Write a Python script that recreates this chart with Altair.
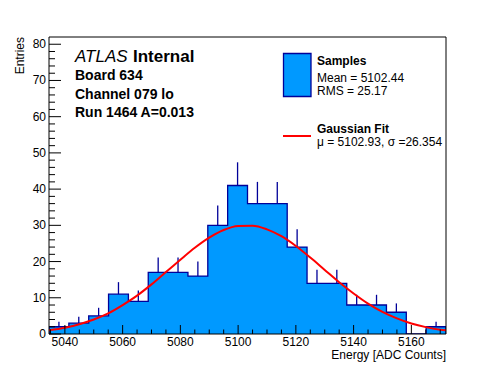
import altair as alt
import pandas as pd
import numpy as np

# ---- data ----
x_min = 5034.5
x_max = 5172.0
y_max = 82
counts = [2, 3, 5, 11, 9, 17, 17, 16, 30, 41, 36, 36, 24, 14, 14, 8, 8, 6, 0, 2]

fit_x = [5034.5, 5040, 5045, 5050, 5055, 5060, 5065, 5070, 5075, 5080, 5085, 5090,
         5095, 5100, 5105, 5110, 5115, 5120, 5125, 5130, 5135, 5140, 5145, 5150,
         5155, 5160, 5165, 5170, 5172]
fit_y = [1.0, 1.7, 2.7, 4.0, 5.7, 8.0, 10.6, 13.7, 17.1, 20.5, 23.8, 26.6,
         28.7, 29.8, 29.9, 28.9, 27.0, 24.3, 21.1, 17.7, 14.3, 11.2, 8.4, 6.1,
         4.3, 2.9, 1.9, 1.2, 1.0]

x_major = [5040, 5060, 5080, 5100, 5120, 5140, 5160]
x_minor = [5035, 5045, 5050, 5055, 5065, 5070, 5075, 5085, 5090, 5095, 5105,
           5110, 5115, 5125, 5130, 5135, 5145, 5150, 5155, 5165, 5170]
y_major = [0, 10, 20, 30, 40, 50, 60, 70, 80]
y_minor = [2, 4, 6, 8, 12, 14, 16, 18, 22, 24, 26, 28, 32, 34, 36, 38, 42, 44, 46, 48,
           52, 54, 56, 58, 62, 64, 66, 68, 72, 74, 76, 78]

W, H = 397, 297
FONT = "Liberation Sans"
FILL = "#0099ff"
EDGE = "#000099"

n = len(counts)
edges = np.linspace(x_min, x_max, n + 1)
bins = pd.DataFrame({
    "center": (edges[:-1] + edges[1:]) / 2, "count": counts,
})
bins["hi"] = bins["count"] + np.sqrt(bins["count"])

step = pd.DataFrame({
    "x": [edges[0]] + list(edges[:-1]) + [edges[-1], edges[-1]],
    "y": [0] + counts + [counts[-1], 0],
})
fit = pd.DataFrame({"x": fit_x, "y": fit_y})

xs = alt.Scale(domain=[x_min, x_max], nice=False, zero=False)
ys = alt.Scale(domain=[0, y_max], nice=False)

fill = alt.Chart(step).mark_area(interpolate="step-after", color=FILL,
                                 opacity=1, clip=True).encode(
    x=alt.X("x:Q", scale=xs, axis=None), y=alt.Y("y:Q", scale=ys, axis=None))

outline = alt.Chart(step).mark_line(interpolate="step-after", color=EDGE,
                                    strokeWidth=1.3, clip=True).encode(
    x=alt.X("x:Q", scale=xs, axis=None), y=alt.Y("y:Q", scale=ys, axis=None))

errs = alt.Chart(bins[bins["count"] > 0]).mark_rule(color=EDGE, strokeWidth=1.3).encode(
    x=alt.X("center:Q", scale=xs, axis=None), y=alt.Y("count:Q", scale=ys, axis=None),
    y2="hi:Q")

curve = alt.Chart(fit).mark_line(color="#ff0000", strokeWidth=2,
                                 interpolate="monotone", clip=True).encode(
    x=alt.X("x:Q", scale=xs, axis=None), y=alt.Y("y:Q", scale=ys, axis=None))

def xticks(vals, length):
    return alt.Chart(pd.DataFrame({"v": vals})).mark_rule(color="black", strokeWidth=1).encode(
        x=alt.X("v:Q", scale=xs, axis=None), y=alt.value(H), y2=alt.value(H - length))

def yticks(vals, length):
    return alt.Chart(pd.DataFrame({"v": vals})).mark_rule(color="black", strokeWidth=1).encode(
        y=alt.Y("v:Q", scale=ys, axis=None), x=alt.value(0), x2=alt.value(length))

xlabels = alt.Chart(pd.DataFrame({"v": x_major})).mark_text(
    font=FONT, fontSize=12, align="center", baseline="middle", color="black").encode(
    x=alt.X("v:Q", scale=xs, axis=None), y=alt.value(H + 8), text=alt.Text("v:Q", format="d"))

ylabels = alt.Chart(pd.DataFrame({"v": y_major})).mark_text(
    font=FONT, fontSize=12, align="right", baseline="middle", color="black").encode(
    y=alt.Y("v:Q", scale=ys, axis=None), x=alt.value(-3), text=alt.Text("v:Q", format="d"))

frame = alt.Chart(pd.DataFrame({"a": [0]})).mark_rect(
    fill=None, stroke="black", strokeWidth=1).encode(
    x=alt.value(0), x2=alt.value(W), y=alt.value(0), y2=alt.value(H))

def label(text, x, y, size=12, weight="normal", style="normal", align="left", angle=0):
    return alt.Chart(pd.DataFrame({"t": [text]})).mark_text(
        font=FONT, fontSize=size, fontWeight=weight, fontStyle=style, align=align,
        baseline="middle", color="black", angle=angle).encode(
        text="t:N", x=alt.value(x), y=alt.value(y))

ox, oy = 49, 37  # plot origin on the page
texts = [
    label("Energy [ADC Counts]", W, 355 - oy, size=12, align="right"),
    label("Entries", 20 - ox, 0, size=12, align="right", angle=270),
    label("ATLAS", 75 - ox, 57 - oy, size=17, style="italic"),
    label("Internal", 133 - ox, 57 - oy, size=17, weight="bold"),
    label("Board 634", 75 - ox, 76 - oy, size=14, weight="bold"),
    label("Channel 079 lo", 75 - ox, 95 - oy, size=14, weight="bold"),
    label("Run 1464 A=0.013", 75 - ox, 113 - oy, size=14, weight="bold"),
    label("Samples", 317 - ox, 61 - oy, size=12, weight="bold"),
    label("Mean = 5102.44", 317 - ox, 78 - oy, size=12),
    label("RMS = 25.17", 317 - ox, 91 - oy, size=12),
    label("Gaussian Fit", 317 - ox, 129 - oy, size=12, weight="bold"),
    label("\u03bc = 5102.93, \u03c3 =26.354", 317 - ox, 142 - oy, size=12),
]

legbox = alt.Chart(pd.DataFrame({"a": [0]})).mark_rect(
    fill=FILL, stroke=EDGE, strokeWidth=1.3).encode(
    x=alt.value(283.5 - ox), x2=alt.value(311 - ox),
    y=alt.value(53.5 - oy), y2=alt.value(96.5 - oy))
legline = alt.Chart(pd.DataFrame({"a": [0]})).mark_rule(color="#ff0000", strokeWidth=2).encode(
    x=alt.value(283 - ox), x2=alt.value(311 - ox), y=alt.value(136 - oy))

chart = alt.layer(
    fill, outline, errs, curve,
    xticks(x_major, 9), xticks(x_minor, 4.5),
    yticks(y_major, 12), yticks(y_minor, 6),
    xlabels, ylabels, frame,
    legbox, legline, *texts,
).properties(
    width=W, height=H,
    autosize=alt.AutoSizeParams(type="none"),
    padding={"left": 41, "top": 29, "right": 42, "bottom": 30},
    background="white",
).configure_view(stroke=None)

chart.save("out.html", embed_options={"renderer": "svg", "actions": False})
